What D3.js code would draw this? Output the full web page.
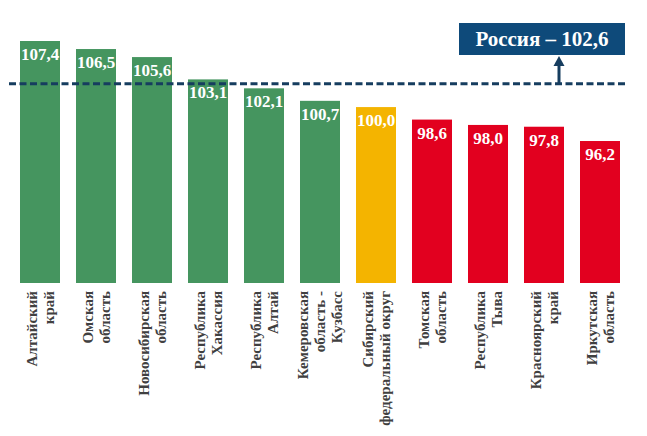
<!DOCTYPE html>
<html><head><meta charset="utf-8">
<script src="https://cdn.jsdelivr.net/npm/d3@7"></script>
</head><body style="margin:0">
<script>
const categories = [
  "Алтайский\nкрай",
  "Омская\nобласть",
  "Новосибирская\nобласть",
  "Республика\nХакассия",
  "Республика\nАлтай",
  "Кемеровская\nобласть -\nКузбасс",
  "Сибирский\nфедеральный округ",
  "Томская\nобласть",
  "Республика\nТыва",
  "Красноярский\nкрай",
  "Иркутская\nобласть"
];
const values = [107.4, 106.5, 105.6, 103.1, 102.1, 100.7, 100.0, 98.6, 98.0, 97.8, 96.2];
const districtValue = 100.0;
const russiaValue = 102.6;
const russiaLabel = "Россия – 102,6";

const W = 647, H = 436;
const FONT = '"Liberation Serif", "Tinos", "Nimbus Roman", "FreeSerif", "Noto Serif", serif';
const svg = d3.select("body").append("svg").attr("width", W).attr("height", H)
  .style("display", "block");

const x = d3.scaleBand().domain(categories).range([12, 628]).paddingInner(16/56).paddingOuter(8/56);
const y = d3.scaleLinear().domain([80.3, 107.4]).range([283, 41]);

const colorOf = v => v > districtValue ? "#45955f" : (v === districtValue ? "#f4b400" : "#e2001f");
const fmt = v => v.toFixed(1).replace(".", ",");

svg.append("g").selectAll("rect").data(categories).join("rect")
  .attr("x", d => x(d)).attr("width", x.bandwidth())
  .attr("y", (d, i) => y(values[i])).attr("height", (d, i) => y.range()[0] - y(values[i]))
  .attr("fill", (d, i) => colorOf(values[i]));

svg.append("g").selectAll("text").data(categories).join("text")
  .attr("x", d => x(d) + x.bandwidth() / 2)
  .attr("y", (d, i) => y(values[i]) + 19)
  .attr("text-anchor", "middle")
  .attr("style", `font-family:${FONT};font-weight:700;font-size:17px`)
  .attr("fill", "#fff")
  .text((d, i) => fmt(values[i]));

// Category labels (rotated)
const lh = 17;
svg.append("g").selectAll("text").data(categories).join("text")
  .attr("transform", d => `translate(${x(d) + x.bandwidth() / 2},291) rotate(-90)`)
  .attr("text-anchor", "end")
  .attr("style", `font-family:${FONT};font-weight:700;font-size:15px`)
  .attr("fill", "#404040")
  .each(function (d) {
    const lines = d.split("\n");
    const n = lines.length;
    d3.select(this).selectAll("tspan").data(lines).join("tspan")
      .attr("x", 0)
      .attr("y", (l, i) => (i - (n - 1) / 2) * lh + 5)
      .text(l => l);
  });

// Russia dashed line
const ry = y(russiaValue);
svg.append("line")
  .attr("x1", 9).attr("x2", 627).attr("y1", ry).attr("y2", ry)
  .attr("stroke", "#163d5f").attr("stroke-width", 3).attr("stroke-dasharray", "7,3.5");

// Arrow
const ax = 559;
svg.append("line").attr("x1", ax).attr("x2", ax).attr("y1", ry).attr("y2", 64)
  .attr("stroke", "#163d5f").attr("stroke-width", 3);
svg.append("path").attr("d", `M${ax - 5.5},66 L${ax + 5.5},66 L${ax},56 Z`).attr("fill", "#163d5f");

// Russia box
svg.append("rect").attr("x", 459).attr("y", 23).attr("width", 166).attr("height", 32).attr("fill", "#0e4a7a");
svg.append("text").attr("x", 542).attr("y", 46)
  .attr("text-anchor", "middle")
  .attr("style", `font-family:${FONT};font-weight:700;font-size:21px`)
  .attr("fill", "#fff").text(russiaLabel);
</script>
</body></html>
